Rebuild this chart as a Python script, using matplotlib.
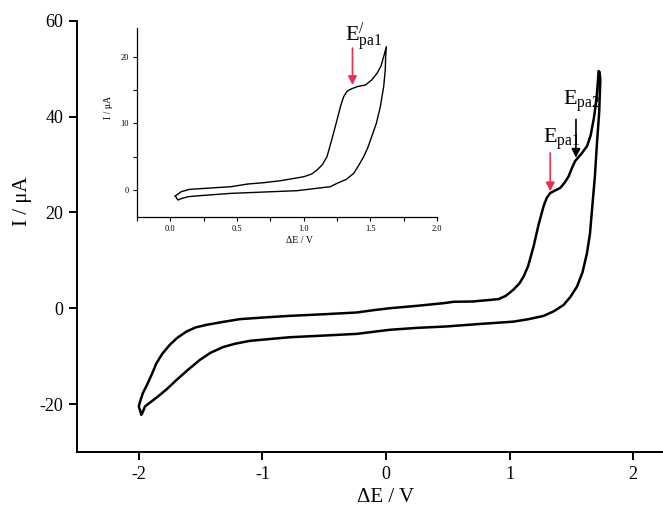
import matplotlib
matplotlib.use("Agg")
import matplotlib.pyplot as plt
from matplotlib.ticker import MultipleLocator

plt.rcParams['font.family'] = ['Liberation Serif', 'DejaVu Serif']
plt.rcParams['mathtext.fontset'] = 'custom'
plt.rcParams['mathtext.rm'] = 'Liberation Serif'
plt.rcParams['mathtext.it'] = 'Liberation Serif'

# ---- main cyclic voltammogram (closed loop) ----
main_fwd_v = [-1.98, -2.0, -1.99, -1.967, -1.93, -1.89, -1.858, -1.81, -1.75, -1.69, -1.615,
              -1.54, -1.453, -1.33, -1.183, -1.0, -0.778, -0.5, -0.237, -0.1, 0.03, 0.25,
              0.464, 0.55, 0.7, 0.91, 0.97, 1.03, 1.08, 1.113, 1.15, 1.194, 1.235, 1.275,
              1.30, 1.329, 1.37, 1.41, 1.445, 1.477, 1.505, 1.53, 1.58, 1.626, 1.655,
              1.68, 1.695, 1.707, 1.715, 1.72, 1.728]
main_fwd_i = [-22.1, -20.5, -19.5, -17.7, -15.8, -13.5, -11.5, -9.5, -7.65, -6.2, -4.87,
              -4.0, -3.47, -2.9, -2.28, -1.95, -1.59, -1.25, -0.89, -0.4, 0.0, 0.5,
              1.05, 1.35, 1.4, 1.9, 2.6, 3.85, 5.2, 6.6, 8.8, 12.9, 17.5, 21.3,
              23.0, 24.05, 24.6, 25.1, 26.2, 27.5, 29.3, 30.7, 32.2, 33.8, 36.0,
              39.4, 42.0, 44.95, 47.5, 49.5, 49.3]
main_rev_v = [1.734, 1.725, 1.707, 1.69, 1.667, 1.65, 1.626, 1.59, 1.545, 1.49, 1.437,
              1.36, 1.275, 1.15, 1.03, 0.75, 0.49, 0.25, 0.03, -0.237, -0.5, -0.778,
              -1.10, -1.22, -1.318, -1.42, -1.507, -1.60, -1.696, -1.77, -1.83, -1.90,
              -1.95, -1.97, -1.98]
main_rev_i = [47.7, 41.0, 34.5, 27.5, 20.6, 15.5, 11.5, 7.5, 4.5, 2.3, 0.7,
              -0.6, -1.6, -2.3, -2.8, -3.3, -3.8, -4.1, -4.5, -5.35, -5.7, -6.05,
              -6.8, -7.4, -8.1, -9.3, -10.8, -12.8, -15.0, -16.8, -18.1, -19.5,
              -20.5, -21.8, -22.1]

# ---- inset voltammogram ----
ins_fwd_v = [0.037, 0.082, 0.144, 0.3, 0.455, 0.58, 0.7, 0.828, 1.002, 1.06, 1.10, 1.14,
             1.175, 1.21, 1.25, 1.28, 1.30, 1.325, 1.35, 1.40, 1.463, 1.51, 1.55, 1.58,
             1.60, 1.62]
ins_fwd_i = [-0.9, -0.25, 0.1, 0.3, 0.5, 0.9, 1.1, 1.4, 2.0, 2.4, 3.0, 3.8,
             5.0, 7.5, 10.5, 12.8, 14.0, 14.8, 15.1, 15.5, 15.75, 16.5, 17.5, 18.6,
             20.0, 21.5]
ins_rev_v = [1.615, 1.612, 1.60, 1.575, 1.545, 1.51, 1.48, 1.45, 1.41, 1.375, 1.32, 1.25,
             1.20, 0.95, 0.7, 0.455, 0.25, 0.132, 0.08, 0.057, 0.037]
ins_rev_i = [20.0, 18.0, 15.5, 12.5, 10.0, 8.0, 6.3, 5.0, 3.6, 2.5, 1.6, 1.0,
             0.5, -0.1, -0.3, -0.5, -0.8, -1.0, -1.3, -1.5, -0.9]

main_xticks = [-2, -1, 0, 1, 2]
main_yticks = [-20, 0, 20, 40, 60]
ins_xticks = [0.0, 0.5, 1.0, 1.5, 2.0]
ins_yticks = [0, 10, 20]

red = '#e8304c'

fig = plt.figure(figsize=(6.63, 5.08), dpi=100)
ax = fig.add_axes([77/663, 56/508, 618/663, 431.3/508])
ax.plot(main_fwd_v + main_rev_v, main_fwd_i + main_rev_i, color='black', lw=1.8,
        solid_joinstyle='round')
ax.set_xlim(-2.5, 2.5)
ax.set_ylim(-30, 60)
ax.set_xticks(main_xticks)
ax.set_yticks(main_yticks)
ax.set_xticklabels([str(t) for t in main_xticks])
ax.set_yticklabels([str(t) for t in main_yticks])
for s in ['top', 'right']:
    ax.spines[s].set_visible(False)
for s in ['left', 'bottom']:
    ax.spines[s].set_linewidth(1.4)
ax.tick_params(direction='out', length=6, width=1.4, labelsize=13, pad=4)
ax.set_xlabel('ΔE / V', fontsize=15)
ax.set_ylabel('I / μA', fontsize=15)
ax.xaxis.set_label_coords(0.5, -0.083)
ax.yaxis.set_label_coords(-0.073, 0.582)

ax.annotate('', xy=(1.329, 24.4), xytext=(1.329, 32.4),
            arrowprops=dict(arrowstyle='-|>', color=red, lw=1.2, mutation_scale=13,
                            shrinkA=0, shrinkB=0))
ax.annotate('', xy=(1.537, 31.4), xytext=(1.537, 39.4),
            arrowprops=dict(arrowstyle='-|>', color='black', lw=1.2, mutation_scale=13,
                            shrinkA=0, shrinkB=0))
ax.text(1.27, 34.5, r'$\mathrm{E}_{\mathrm{pa1}}$', fontsize=16, ha='left', va='baseline')
ax.text(1.432, 42.5, r'$\mathrm{E}_{\mathrm{pa2}}$', fontsize=16, ha='left', va='baseline')

# ---- inset ----
axi = fig.add_axes([137/663, 291.3/508, 300/663, 188.7/508])
axi.plot(ins_fwd_v + ins_rev_v, ins_fwd_i + ins_rev_i, color='black', lw=1.0,
         solid_joinstyle='round')
axi.set_xlim(-0.25, 2.0)
axi.set_ylim(-4, 24.3)
axi.set_xticks(ins_xticks)
axi.set_yticks(ins_yticks)
axi.set_xticklabels(['%.1f' % t for t in ins_xticks])
axi.set_yticklabels([str(t) for t in ins_yticks])
axi.xaxis.set_minor_locator(MultipleLocator(0.25))
axi.yaxis.set_minor_locator(MultipleLocator(5))
for s in ['top', 'right']:
    axi.spines[s].set_visible(False)
for s in ['left', 'bottom']:
    axi.spines[s].set_linewidth(0.9)
axi.tick_params(which='both', direction='out', length=3, width=0.8, labelsize=6, pad=3)
axi.set_xlabel('ΔE / V', fontsize=7)
axi.set_ylabel('I / μA', fontsize=7)
axi.xaxis.set_label_coords(0.54, -0.10)
axi.yaxis.set_label_coords(-0.08, 0.58)
axi.patch.set_alpha(0)

axi.annotate('', xy=(1.366, 15.75), xytext=(1.366, 21.3),
             arrowprops=dict(arrowstyle='-|>', color=red, lw=1.2, mutation_scale=13,
                             shrinkA=0, shrinkB=0))
axi.text(1.313, 22.2, r'$\mathrm{E}^{/}_{\mathrm{pa1}}$', fontsize=16, ha='left', va='baseline')

fig.savefig('out.png', dpi=100)
